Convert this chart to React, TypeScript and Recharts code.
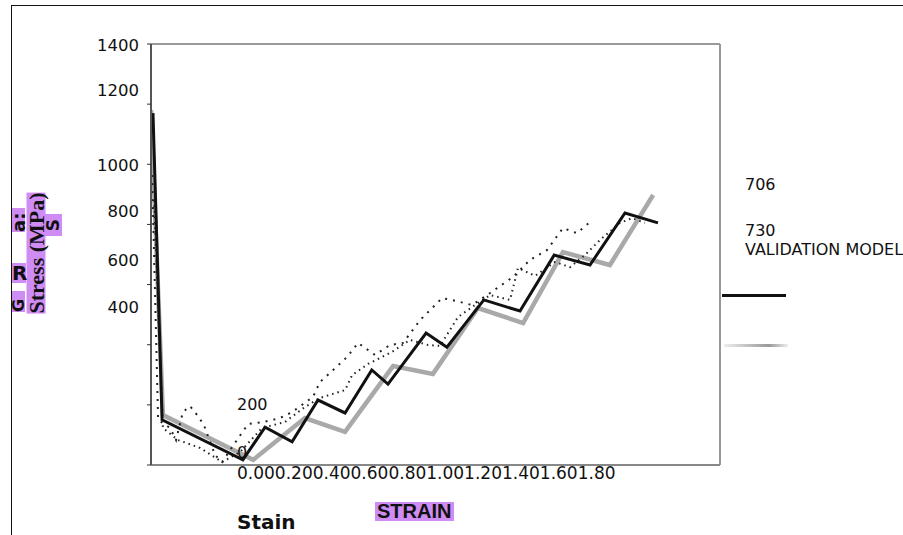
import { LineChart, Line, XAxis, YAxis, ReferenceLine } from 'recharts'

// validation model (black solid)
const modelStrain = [0.007, 0.039, 0.323, 0.401, 0.496, 0.587, 0.682, 0.776, 0.833, 0.967, 1.04, 1.17, 1.297, 1.417, 1.543, 1.666, 1.782]
const modelStress = [1170, 150, 17, 126, 77, 216, 173, 316, 269, 439, 392, 549, 512, 698, 665, 838, 805]

// grey thick curve
const greyStrain = [0.0, 0.042, 0.359, 0.541, 0.682, 0.851, 0.991, 1.149, 1.308, 1.448, 1.613, 1.765]
const greyStress = [1180, 166, 17, 156, 110, 329, 303, 522, 472, 708, 665, 898]

// specimen 706 (dash-dot)
const s706Strain = [0.004, 0.025, 0.067, 0.088, 0.112, 0.137, 0.165, 0.186, 0.225, 0.25, 0.302, 0.341, 0.394, 0.453, 0.496, 0.569, 0.594, 0.629, 0.689, 0.728, 0.787, 0.84, 0.886, 0.946, 1.023, 1.058, 1.128, 1.192, 1.272, 1.332, 1.392, 1.448, 1.497, 1.543]
const s706Stress = [964, 150, 123, 83, 176, 196, 163, 133, 33, 10, 83, 136, 143, 156, 176, 226, 276, 306, 359, 406, 366, 399, 406, 482, 555, 549, 532, 572, 625, 682, 715, 788, 771, 808]

// specimen 730 (dotted)
const s730Strain = [0.011, 0.042, 0.095, 0.172, 0.25, 0.313, 0.39, 0.471, 0.541, 0.594, 0.682, 0.707, 0.763, 0.847, 0.91, 0.974, 1.016, 1.079, 1.139, 1.192, 1.262, 1.29, 1.35, 1.42, 1.473, 1.525, 1.578, 1.649, 1.691, 1.736]
const s730Stress = [881, 123, 83, 57, 10, 43, 123, 143, 193, 223, 249, 299, 336, 376, 416, 399, 396, 492, 532, 565, 549, 655, 629, 675, 658, 698, 748, 805, 821, 805]

const stressTicks = [0, 200, 400, 600, 800, 1000, 1200, 1400]
const yLabels = ['1400', '1200', '1000', '800', '600', '400']
const xLabel = '0.000.200.400.600.801.001.201.401.601.80'

const zip = (xs: number[], ys: number[]) => xs.map((x, i) => ({ x, y: ys[i] }))

const purple = '#cf8cf4'
const sans = 'DejaVu Sans, sans-serif'

function Txt({ left, top, children, style }: any) {
  return (
    <div style={{ position: 'absolute', left, top, fontFamily: sans, fontSize: 16, color: '#111', lineHeight: 1, whiteSpace: 'nowrap', ...style }}>
      {children}
    </div>
  )
}

export default function App() {
  const yTops = [38, 83, 158, 204, 253, 300]
  return (
    <div style={{ position: 'absolute', left: 0, top: 0, width: 903, height: 535, overflow: 'hidden', background: '#fff' }}>
      <div style={{ position: 'absolute', left: 11, top: 5, width: 900, height: 540, borderLeft: '1px solid #111', borderTop: '1px solid #111' }} />
      <div style={{ position: 'absolute', left: 0, top: 0 }}>
        <LineChart width={903} height={535} margin={{ top: 44, right: 183, bottom: 60, left: 141 }}>
          <XAxis type="number" dataKey="x" domain={[0, 2]} allowDataOverflow height={10} tick={false} axisLine={{ stroke: '#888', strokeWidth: 2 }} tickLine={false} />
          <YAxis type="number" dataKey="y" domain={[0, 1400]} ticks={stressTicks} width={10} allowDataOverflow
            axisLine={{ stroke: '#555', strokeWidth: 2 }} tickLine={{ stroke: '#333' }} tickSize={4} tick={() => <g />} />
          <ReferenceLine y={1400} stroke="#999" strokeWidth={2} />
          <ReferenceLine x={2} stroke="#999" strokeWidth={2} />
          <Line data={zip(greyStrain, greyStress)} dataKey="y" stroke="#a9a9a9" strokeWidth={4.5} dot={false} isAnimationActive={false} />
          <Line data={zip(s706Strain, s706Stress)} dataKey="y" stroke="#222" strokeWidth={2} strokeDasharray="2 6" dot={false} isAnimationActive={false} />
          <Line data={zip(s730Strain, s730Stress)} dataKey="y" stroke="#222" strokeWidth={2} strokeDasharray="1.5 4" dot={false} isAnimationActive={false} />
          <Line data={zip(modelStrain, modelStress)} dataKey="y" stroke="#111" strokeWidth={3} dot={false} isAnimationActive={false} />
        </LineChart>
      </div>

      {yLabels.map((l, i) => (
        <Txt key={l} left={139} top={yTops[i]} style={{ transform: 'translateX(-100%)', fontSize: 16.5 }}>{l}</Txt>
      ))}
      <Txt left={237} top={397}>200</Txt>
      <Txt left={237} top={445}>0</Txt>
      <Txt left={237} top={465} style={{ fontSize: 17 }}>{xLabel}</Txt>

      <Txt left={745} top={177}>706</Txt>
      <Txt left={745} top={223}>730</Txt>
      <Txt left={745} top={242}>VALIDATION MODEL</Txt>
      <div style={{ position: 'absolute', left: 722, top: 294, width: 64, height: 3, background: '#111' }} />
      <div style={{ position: 'absolute', left: 724, top: 344, width: 64, height: 3, background: 'linear-gradient(to right, #eee, #999 70%, #eee)' }} />

      <Txt left={237} top={512} style={{ fontSize: 20, fontWeight: 'bold' }}>Stain</Txt>
      <Txt left={375} top={502} style={{ fontFamily: 'Liberation Sans, Arial, sans-serif', fontSize: 20, fontWeight: 'bold', background: purple, padding: '0 3px 0 2px', height: 19, lineHeight: '19px' }}>STRAIN</Txt>

      <Txt left={36} top={253} style={{ fontFamily: 'Liberation Serif, serif', fontSize: 22, fontWeight: 'bold', background: purple, lineHeight: '19px', transform: 'translate(-50%, -50%) rotate(-90deg)' }}>Stress (MPa)</Txt>
      <Txt left={12} top={208} style={{ fontSize: 18, fontWeight: 'bold', background: purple, width: 24, height: 13, lineHeight: '13px', transformOrigin: '0 0', transform: 'translate(0, 24px) rotate(-90deg)' }}>a:</Txt>
      <Txt left={12} top={263} style={{ fontSize: 20, fontWeight: 'bold', background: purple, width: 14, height: 20, lineHeight: '20px' }}>R</Txt>
      <Txt left={12} top={291} style={{ fontSize: 16, fontWeight: 'bold', background: purple, width: 21, height: 13, lineHeight: '13px', transformOrigin: '0 0', transform: 'translate(0, 21px) rotate(-90deg)' }}>G</Txt>
      <Txt left={45} top={214} style={{ fontSize: 17, fontWeight: 'bold', background: purple, width: 22, height: 17, lineHeight: '17px', textAlign: 'center', transformOrigin: '0 0', transform: 'translate(0, 22px) rotate(-90deg)' }}>S</Txt>
    </div>
  )
}
